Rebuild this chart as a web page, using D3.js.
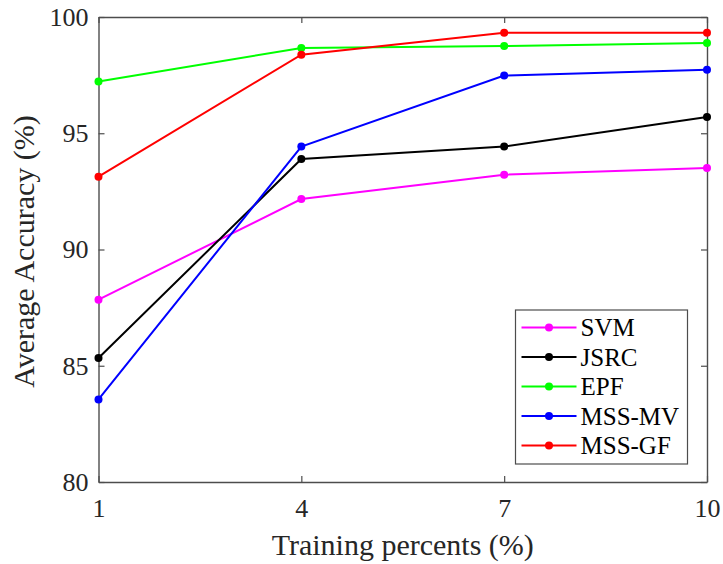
<!DOCTYPE html>
<html>
<head>
<meta charset="utf-8">
<script src="https://cdn.jsdelivr.net/npm/d3@7"></script>
<style>
  html, body { margin: 0; padding: 0; background: #fff; }
  svg { display: block; font-family: "Liberation Serif", "Times New Roman", serif; }
</style>
</head>
<body>
<svg id="chart" width="723" height="564"></svg>
<script>
// Training percentages on the x axis
const trainingPercents = [1, 4, 7, 10];

// Average accuracy (%) per method
const svm   = [87.84, 92.17, 93.22, 93.51];
const jsrc  = [85.33, 93.89, 94.43, 95.70];
const epf   = [97.23, 98.67, 98.75, 98.88];
const mssMv = [83.55, 94.43, 97.48, 97.73];
const mssGf = [93.13, 98.38, 99.32, 99.32];

const seriesNames  = ["SVM", "JSRC", "EPF", "MSS-MV", "MSS-GF"];
const seriesValues = [svm, jsrc, epf, mssMv, mssGf];
const seriesColors = ["#ff00ff", "#000000", "#00ff00", "#0000ff", "#ff0000"];

const xTicks = [1, 4, 7, 10];
const yTicks = [80, 85, 90, 95, 100];

const svg = d3.select("#chart");
const margin = { left: 98.5, right: 16, top: 17, bottom: 82 };
const W = 723, H = 564;
const x = d3.scaleLinear().domain([1, 10]).range([margin.left, W - margin.right]);
const y = d3.scaleLinear().domain([80, 100]).range([H - margin.bottom, margin.top]);

const axisColor = "#262626";
const frameColor = "#4d4d4d";
const tickLen = 6;
const tickFont = "26px";

// Axes (bottom/left with labels, top/right ticks only, boxed frame)
const fmt = d3.format("d");
const gx = svg.append("g").attr("transform", `translate(0,${y(80)})`)
  .call(d3.axisBottom(x).tickValues(xTicks).tickFormat(fmt).tickSizeInner(-tickLen).tickSizeOuter(0));
const gy = svg.append("g").attr("transform", `translate(${x(1)},0)`)
  .call(d3.axisLeft(y).tickValues(yTicks).tickFormat(fmt).tickSizeInner(-tickLen).tickSizeOuter(0).tickPadding(10));
const gt = svg.append("g").attr("transform", `translate(0,${y(100)})`)
  .call(d3.axisTop(x).tickValues(xTicks).tickFormat("").tickSizeInner(-tickLen).tickSizeOuter(0));
const gr = svg.append("g").attr("transform", `translate(${x(10)},0)`)
  .call(d3.axisRight(y).tickValues(yTicks).tickFormat("").tickSizeInner(-tickLen).tickSizeOuter(0));

[gx, gy, gt, gr].forEach(g => {
  g.select(".domain").attr("stroke", frameColor).attr("stroke-width", 1.4);
  g.selectAll(".tick line").attr("stroke", frameColor).attr("stroke-width", 1.2);
  g.selectAll(".tick text").attr("fill", axisColor).style("font-size", tickFont)
    .style("font-family", "'Liberation Serif', 'Times New Roman', serif");
});
gx.selectAll(".tick text").attr("y", 35).attr("dy", 0);

// Axis titles
svg.append("text")
  .attr("x", (x(1) + x(10)) / 2).attr("y", 555)
  .attr("text-anchor", "middle").attr("fill", axisColor)
  .style("font-size", "30px").text("Training percents (%)");
svg.append("text")
  .attr("transform", `translate(34,${(y(80) + y(100)) / 2 + 2}) rotate(-90)`)
  .attr("text-anchor", "middle").attr("fill", axisColor)
  .style("font-size", "30px").text("Average Accuracy (%)");

// Lines and markers
const line = d3.line().x((d, i) => x(trainingPercents[i])).y(d => y(d));
seriesValues.forEach((vals, s) => {
  const g = svg.append("g");
  g.append("path").datum(vals).attr("d", line)
    .attr("fill", "none").attr("stroke", seriesColors[s]).attr("stroke-width", 2);
  g.selectAll("circle").data(vals).join("circle")
    .attr("cx", (d, i) => x(trainingPercents[i])).attr("cy", d => y(d))
    .attr("r", 4).attr("fill", seriesColors[s]);
});

// Legend
const lg = svg.append("g").attr("transform", "translate(515.5,310)");
lg.append("rect").attr("width", 172).attr("height", 154)
  .attr("fill", "#fff").attr("stroke", frameColor).attr("stroke-width", 1.2);
seriesNames.forEach((name, s) => {
  const cy = 17.5 + s * 29.5;
  lg.append("line").attr("x1", 6).attr("x2", 61).attr("y1", cy).attr("y2", cy)
    .attr("stroke", seriesColors[s]).attr("stroke-width", 2);
  lg.append("circle").attr("cx", 33.5).attr("cy", cy).attr("r", 4).attr("fill", seriesColors[s]);
  lg.append("text").attr("x", 65).attr("y", cy).attr("dy", "0.35em")
    .attr("fill", "#000").style("font-size", "25px").text(name);
});
</script>
</body>
</html>
